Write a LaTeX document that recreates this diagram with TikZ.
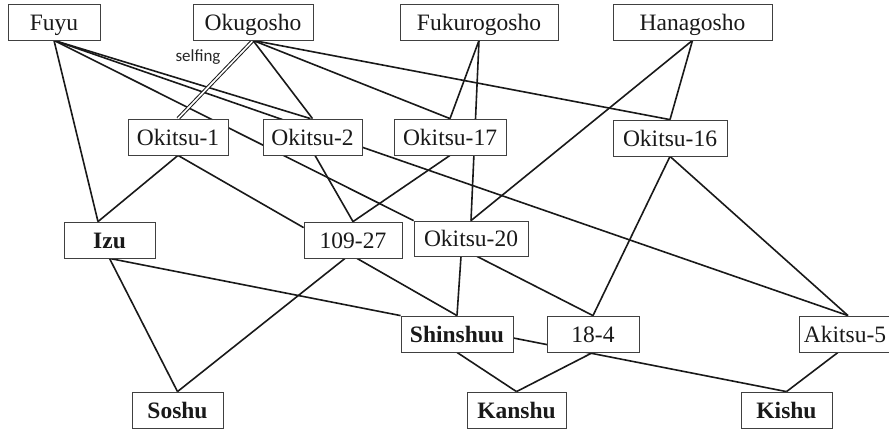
\documentclass[tikz,border=0pt]{standalone}
\usepackage{fontspec}
\setmainfont{Liberation Serif}
\newfontfamily\selffont{Carlito}
\pgfdeclarelayer{bg}
\pgfsetlayers{bg,main}
\begin{document}
\begin{tikzpicture}[x=1pt,y=-1pt,
  box/.style={draw=black!75, line width=0.8pt, fill=white, minimum height=36pt,
    inner sep=0pt, text height=16pt, text depth=0pt, text=black!90, font=\fontsize{23.5}{25}\selectfont},
  bbox/.style={box, font=\fontsize{23.5}{25}\selectfont\bfseries},
  edge/.style={line width=1.6pt, black!90},
  selfedge/.style={line width=1pt, black!90, double=white, double distance=1.7pt}]
\useasboundingbox (0,0) rectangle (889,429);
% parents
\node[box, minimum width=92pt]  (fuyu) at (54,22)    {Fuyu};
\node[box, minimum width=120pt] (oku)  at (253,22)   {Okugosho};
\node[box, minimum width=158pt] (fuk)  at (479,22)   {Fukurogosho};
\node[box, minimum width=159pt] (hana) at (692.5,22) {Hanagosho};
% second row
\node[box, minimum width=100pt] (ok1)  at (178,137)   {Okitsu-1};
\node[box, minimum width=99pt]  (ok2)  at (312.5,137) {Okitsu-2};
\node[box, minimum width=112pt] (ok17) at (450,137)   {Okitsu-17};
\node[box, minimum width=114pt] (ok16) at (670,138)   {Okitsu-16};
% third row
\node[bbox, minimum width=91pt]  (izu)    at (109.5,240) {Izu};
\node[box,  minimum width=98pt]  (b10927) at (353,240)   {109-27};
\node[box,  minimum width=114pt, minimum height=35pt] (ok20) at (471,238.5) {Okitsu-20};
% fourth row
\node[bbox, minimum width=112pt] (shin) at (457,334) {Shinshuu};
\node[box,  minimum width=92pt]  (b184) at (593,334) {18-4};
\node[box,  minimum width=92pt]  (ak5)  at (845,334) {Akitsu-5};
% bottom row
\node[bbox, minimum width=91pt] (soshu)  at (177.5,410) {Soshu};
\node[bbox, minimum width=99pt] (kanshu) at (516.5,410) {Kanshu};
\node[bbox, minimum width=91pt] (kishu)  at (786.5,410) {Kishu};
% label
\node[font=\selffont\fontsize{17}{19}\selectfont, text=black!85, inner sep=0pt] (selflbl) at (198,57) {selfing};
\begin{pgfonlayer}{bg}
\draw[edge] (fuyu.south) -- ([xshift=-11.5pt]izu.north);
\draw[edge] (fuyu.south) -- (ok20.north west);
\draw[edge] (fuyu.south) -- ([xshift=-2pt]ok2.north);
\draw[edge] (fuyu.south) -- ([xshift=3pt]ak5.north);
\draw[selfedge] (oku.south) -- (ok1.north);
\draw[edge] (oku.south) -- (ok2.north);
\draw[edge] (oku.south) -- (ok17.north);
\draw[edge] (oku.south) -- (ok16.north);
\draw[edge] (fuk.south) -- (ok17.north);
\draw[edge] (fuk.south) -- (ok20.north);
\draw[edge] (hana.south) -- (ok16.north);
\draw[edge] (hana.south) -- (ok20.north);
\draw[edge] (ok1.south) -- ([xshift=-11.5pt]izu.north);
\draw[edge] (ok1.south) -- ([yshift=-6pt]b10927.north west);
\draw[edge] ([xshift=2.5pt]ok2.south) -- (b10927.north);
\draw[edge] (ok17.south) -- (b10927.north);
\draw[edge] (ok16.south) -- (b184.north);
\draw[edge] (ok16.south) -- ([xshift=3pt]ak5.north);
\draw[edge] (izu.south) -- (soshu.north);
\draw[edge] (izu.south) -- (shin.north west);
\draw[edge] ([xshift=-8pt]b10927.south) -- (soshu.north);
\draw[edge] ([xshift=4pt]b10927.south) -- (shin.north);
\draw[edge] ([xshift=-10pt]ok20.south) -- (shin.north);
\draw[edge] ([xshift=6pt]ok20.south) -- (b184.north);
\draw[edge] (shin.south) -- (kanshu.north);
\draw[edge] ([yshift=-4pt]shin.east) -- (kishu.north);
\draw[edge] (b184.south) -- (kanshu.north);
\draw[edge] ([xshift=-7pt]ak5.south) -- (kishu.north);
\end{pgfonlayer}
\end{tikzpicture}
\end{document}
